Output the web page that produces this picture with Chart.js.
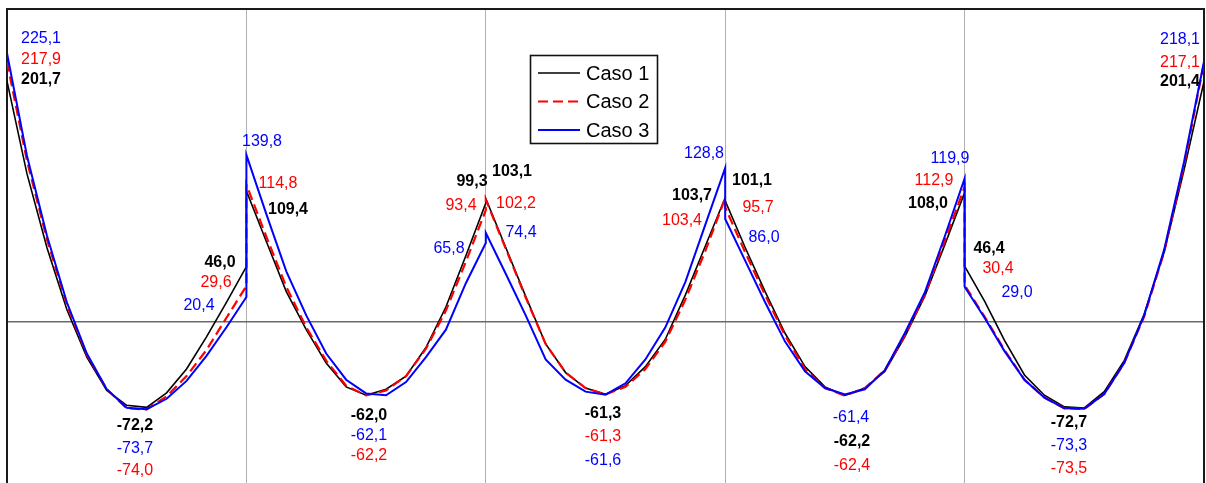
<!DOCTYPE html>
<html>
<head>
<meta charset="utf-8">
<script src="https://cdn.jsdelivr.net/npm/chart.js@4.4.1/dist/chart.umd.min.js"></script>
<style>
  html, body { margin: 0; padding: 0; background: #ffffff; overflow: hidden; }
  #wrap { width: 1206px; height: 483px; }
</style>
</head>
<body>
<div id="wrap"><canvas id="c" width="1206" height="483"></canvas></div>
<script>
// ---------------- DATA ----------------
// Each series: 5 spans, 13 stations per span (span ends included)
const seriesNames = ['Caso 1', 'Caso 2', 'Caso 3'];

const caso1 = [
  [201.7, 124, 62, 10, -30, -58, -70.5, -72.2, -60, -40, -13, 16, 46.0],
  [109.4, 67, 25, -7, -35, -55, -62.0, -57, -46, -22, 12, 55, 99.3],
  [103.1, 62, 21, -19, -43, -56, -61.3, -54, -38, -15, 22, 63, 103.7],
  [101.1, 62, 25, -10, -38, -55, -62.2, -56, -42, -13, 21, 64, 108.0],
  [46.4, 17, -16, -45, -62, -71.8, -72.7, -59, -33, 6, 58, 127, 201.4]
];
const caso2 = [
  [217.9, 135, 69, 14, -28, -57, -73, -74.0, -63, -46, -24, 3, 29.6],
  [114.8, 71, 29, -5, -33, -54, -62.2, -58, -46, -23, 9, 50, 93.4],
  [102.2, 61, 20, -19, -43, -56, -61.3, -55, -40, -17, 18, 59, 103.4],
  [95.7, 58, 22, -12, -40, -56, -62.4, -56, -41, -12, 22, 67, 112.9],
  [30.4, 4, -24, -49, -64, -73, -73.5, -61, -35, 4, 58, 131, 217.1]
];
const caso3 = [
  [225.1, 139, 72, 16, -27, -57, -72.5, -73.7, -65, -50, -29, -5, 20.4],
  [139.8, 90, 42, 5, -27, -49, -60.5, -62.1, -51, -30, -7, 32, 65.8],
  [74.4, 40, 5, -32, -49, -59, -61.6, -52, -32, -5, 33, 81, 128.8],
  [86.0, 51, 16, -17, -42, -56, -61.4, -57, -41, -10, 24, 71, 119.9],
  [29.0, 3, -25, -49, -64, -73, -73.3, -61, -35, 5, 60, 134, 218.1]
];
const spanCount = 5;

// ---------------- value labels: which value, and where to put its text ----------------
// s: series index, span: span index, at: 'first' | 'last' | 'min', dx/dy: pixel offset of text centre
const valueLabels = [
  // left end
  { s: 2, span: 0, at: 'first', dx: 34, dy: -15 },
  { s: 1, span: 0, at: 'first', dx: 34, dy: -2 },
  { s: 0, span: 0, at: 'first', dx: 34, dy: -1.5 },
  // support 1
  { s: 2, span: 1, at: 'first', dx: 15.6, dy: -13.6 },
  { s: 1, span: 1, at: 'first', dx: 31.6, dy: -1.4 },
  { s: 0, span: 1, at: 'first', dx: 41.6, dy: 18.7 },
  { s: 0, span: 0, at: 'last', dx: -26.4, dy: -3.8 },
  { s: 1, span: 0, at: 'last', dx: -30.4, dy: -3.8 },
  { s: 2, span: 0, at: 'last', dx: -47.4, dy: 8.8 },
  // support 2
  { s: 0, span: 1, at: 'last', dx: -13.8, dy: -21.3 },
  { s: 0, span: 2, at: 'first', dx: 26.2, dy: -26.8 },
  { s: 1, span: 1, at: 'last', dx: -24.8, dy: -4.4 },
  { s: 1, span: 2, at: 'first', dx: 30.2, dy: 4.1 },
  { s: 2, span: 1, at: 'last', dx: -36.8, dy: 5.8 },
  { s: 2, span: 2, at: 'first', dx: 35.2, dy: -0.5 },
  // support 3
  { s: 2, span: 2, at: 'last', dx: -21.2, dy: -14.2 },
  { s: 0, span: 3, at: 'first', dx: 26.8, dy: -20.2 },
  { s: 0, span: 2, at: 'last', dx: -33.2, dy: -2.1 },
  { s: 1, span: 2, at: 'last', dx: -43.2, dy: 22.5 },
  { s: 1, span: 3, at: 'first', dx: 32.8, dy: -0.1 },
  { s: 2, span: 3, at: 'first', dx: 38.8, dy: 18.8 },
  // support 4
  { s: 2, span: 3, at: 'last', dx: -14.6, dy: -19.8 },
  { s: 1, span: 3, at: 'last', dx: -30.6, dy: -6.1 },
  { s: 0, span: 3, at: 'last', dx: -36.6, dy: 11 },
  { s: 0, span: 4, at: 'first', dx: 24.4, dy: -17.3 },
  { s: 1, span: 4, at: 'first', dx: 33.4, dy: -16.3 },
  { s: 2, span: 4, at: 'first', dx: 52.4, dy: 5.5 },
  // right end
  { s: 2, span: 4, at: 'last', dx: -24, dy: -22 },
  { s: 1, span: 4, at: 'last', dx: -24, dy: 0.3 },
  { s: 0, span: 4, at: 'last', dx: -24, dy: -0.3 },
  // span minima
  { s: 0, span: 0, at: 'min', dx: -11.7, dy: 18.6 },
  { s: 2, span: 0, at: 'min', dx: -11.7, dy: 39.3 },
  { s: 1, span: 0, at: 'min', dx: -11.7, dy: 61.4 },
  { s: 0, span: 1, at: 'min', dx: 2.9, dy: 20.7 },
  { s: 2, span: 1, at: 'min', dx: -17.1, dy: 40.6 },
  { s: 1, span: 1, at: 'min', dx: 2.9, dy: 60.5 },
  { s: 0, span: 2, at: 'min', dx: -2.5, dy: 19.1 },
  { s: 1, span: 2, at: 'min', dx: -2.5, dy: 42.1 },
  { s: 2, span: 2, at: 'min', dx: -2.5, dy: 66.2 },
  { s: 2, span: 3, at: 'min', dx: 6.1, dy: 22.9 },
  { s: 0, span: 3, at: 'min', dx: 7.1, dy: 46 },
  { s: 1, span: 3, at: 'min', dx: 7.1, dy: 70.2 },
  { s: 0, span: 4, at: 'min', dx: -15.3, dy: 14.5 },
  { s: 2, span: 4, at: 'min', dx: -15.3, dy: 37.3 },
  { s: 1, span: 4, at: 'min', dx: -15.3, dy: 60 }
];

// ---------------- build chart ----------------
const allSeries = [caso1, caso2, caso3];
function toPoints(spans) {
  const pts = [];
  spans.forEach((arr, s) => arr.forEach((v, k) => pts.push({ x: s + k / (arr.length - 1), y: v })));
  return pts;
}
function pointIndex(spans, span, at) {
  let base = 0;
  for (let i = 0; i < span; i++) base += spans[i].length;
  const arr = spans[span];
  if (at === 'first') return base;
  if (at === 'last') return base + arr.length - 1;
  let m = 0;
  arr.forEach((v, k) => { if (v < arr[m]) m = k; });
  return base + m;
}
const fmt = v => v.toFixed(1).replace('.', ',');

const styles = [
  { color: '#000000', width: 1.6, dash: [], bold: true },
  { color: '#ff0000', width: 2.2, dash: [10, 5], bold: false },
  { color: '#0000ff', width: 2, dash: [], bold: false }
];
const FONT = '"Liberation Sans", Arial, sans-serif';

const valueLabelPlugin = {
  id: 'valueLabels',
  afterDatasetsDraw(chart) {
    const ctx = chart.ctx;
    ctx.save();
    ctx.textAlign = 'center';
    ctx.textBaseline = 'middle';
    valueLabels.forEach(l => {
      const idx = pointIndex(allSeries[l.s], l.span, l.at);
      const el = chart.getDatasetMeta(l.s).data[idx];
      const v = chart.data.datasets[l.s].data[idx].y;
      ctx.font = (styles[l.s].bold ? 'bold ' : '') + '16px ' + FONT;
      ctx.fillStyle = styles[l.s].color;
      ctx.fillText(fmt(v), el.x + l.dx, el.y + l.dy);
    });
    ctx.restore();
  }
};

const boxLegendPlugin = {
  id: 'boxLegend',
  afterDraw(chart) {
    const ctx = chart.ctx;
    const left = 530.5, top = 55.5, w = 127, h = 88, rowH = 28.5, firstRow = 73;
    ctx.save();
    ctx.fillStyle = '#ffffff';
    ctx.fillRect(left, top, w, h);
    ctx.strokeStyle = '#111111';
    ctx.lineWidth = 1.6;
    ctx.strokeRect(left, top, w, h);
    chart.data.datasets.forEach((ds, i) => {
      const y = firstRow + i * rowH;
      ctx.beginPath();
      ctx.setLineDash(styles[i].dash);
      ctx.strokeStyle = ds.borderColor;
      ctx.lineWidth = styles[i].width;
      ctx.moveTo(538, y);
      ctx.lineTo(580, y);
      ctx.stroke();
      ctx.setLineDash([]);
      ctx.fillStyle = '#000000';
      ctx.font = '20px ' + FONT;
      ctx.textAlign = 'left';
      ctx.textBaseline = 'middle';
      ctx.fillText(ds.label, 586, y + 1);
    });
    ctx.restore();
  }
};

const Y_MIN = -135.7, Y_MAX = 262.2;

new Chart(document.getElementById('c'), {
  type: 'line',
  data: {
    datasets: allSeries.map((sp, i) => ({
      label: seriesNames[i],
      data: toPoints(sp),
      borderColor: styles[i].color,
      borderWidth: styles[i].width,
      borderDash: styles[i].dash,
      pointRadius: 0,
      tension: 0,
      fill: false,
      order: 3 - i
    }))
  },
  options: {
    responsive: false,
    animation: false,
    devicePixelRatio: 1,
    layout: { padding: { left: 7, top: 9, right: 2, bottom: 0 } },
    plugins: { legend: { display: false }, tooltip: { enabled: false } },
    scales: {
      x: {
        type: 'linear', min: 0, max: spanCount, position: 'top',
        ticks: { display: false, stepSize: 1 },
        grid: {
          drawTicks: false, lineWidth: 1,
          color: c => (c.tick && c.tick.value > 0 && c.tick.value < spanCount) ? '#b0b0b0' : 'rgba(0,0,0,0)'
        },
        border: { display: true, color: '#1a1a1a', width: 2 },
        afterFit: s => { s.height = 0; }
      },
      y: {
        type: 'linear', min: Y_MIN, max: Y_MAX, position: 'left',
        ticks: { display: false },
        afterBuildTicks: s => { s.ticks = [{ value: 0 }]; },
        grid: { drawTicks: false, color: '#6a6a6a', lineWidth: 1.5 },
        border: { display: true, color: '#1a1a1a', width: 2 },
        afterFit: s => { s.width = 0; }
      },
      y2: {
        type: 'linear', min: Y_MIN, max: Y_MAX, position: 'right',
        ticks: { display: false },
        grid: { display: false, drawTicks: false },
        border: { display: true, color: '#1a1a1a', width: 2 },
        afterFit: s => { s.width = 0; }
      }
    }
  },
  plugins: [valueLabelPlugin, boxLegendPlugin]
});
</script>
</body>
</html>
